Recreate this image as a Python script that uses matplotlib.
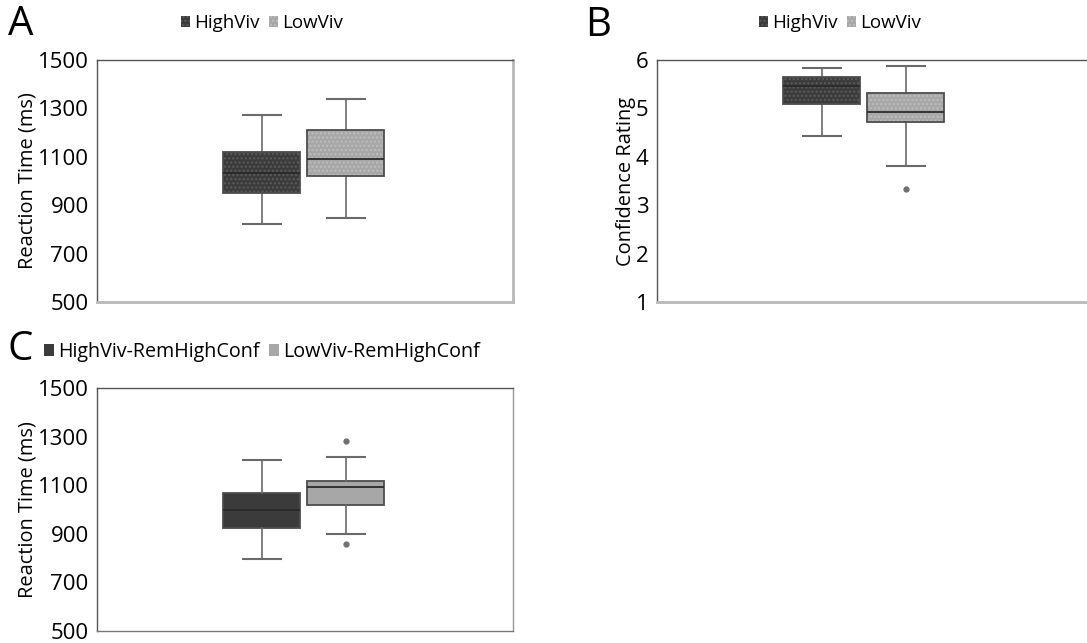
import matplotlib
matplotlib.use("Agg")
import matplotlib.pyplot as plt
from matplotlib.patches import Patch, PathPatch

plt.rcParams['font.family'] = ['Open Sans', 'DejaVu Sans']
plt.rcParams['hatch.linewidth'] = 1.1

# Summary statistics per group: whisker low, Q1, median, Q3, whisker high, outliers
rt_groups = ["HighViv", "LowViv"]
rt_whislo = [822, 847]
rt_q1 = [952, 1022]
rt_med = [1032, 1091]
rt_q3 = [1119, 1211]
rt_whishi = [1273, 1339]
rt_fliers = [[], []]

conf_groups = ["HighViv", "LowViv"]
conf_whislo = [4.44, 3.82]
conf_q1 = [5.10, 4.71]
conf_med = [5.46, 4.93]
conf_q3 = [5.64, 5.32]
conf_whishi = [5.84, 5.88]
conf_fliers = [[], [3.33]]

rem_groups = ["HighViv-RemHighConf", "LowViv-RemHighConf"]
rem_whislo = [797, 900]
rem_q1 = [924, 1019]
rem_med = [998, 1092]
rem_q3 = [1066, 1119]
rem_whishi = [1203, 1214]
rem_fliers = [[], [1282, 860]]

rt_ticks = [500, 700, 900, 1100, 1300, 1500]
conf_ticks = [1, 2, 3, 4, 5, 6]

dark_face, dark_dot = "#3b3b3b", "#5a5a5a"
light_face, light_dot = "#a7a7a7", "#bdbdbd"
edge_col = "#4d4d4d"
whisk_col = "#6a6a6a"

W, H = 1087, 643
fig = plt.figure(figsize=(W / 100, H / 100), dpi=100)


def px_axes(x0, y0, x1, y1):
    return fig.add_axes([x0 / W, 1 - y1 / H, (x1 - x0) / W, (y1 - y0) / H])


def make_stats(groups, lo, q1, med, q3, hi, fl):
    return [dict(label=g, whislo=lo[i], q1=q1[i], med=med[i], q3=q3[i],
                 whishi=hi[i], fliers=fl[i]) for i, g in enumerate(groups)]


def style_axes(ax, ylim, ticks, ylabel):
    ax.set_xlim(0, 5)
    ax.set_ylim(*ylim)
    ax.set_yticks(ticks)
    ax.set_xticks([])
    ax.tick_params(axis='y', length=0, labelsize=16, pad=6)
    ax.set_ylabel(ylabel, fontsize=14.4, labelpad=0)
    for s in ("top", "left"):
        ax.spines[s].set_color("#555555")
        ax.spines[s].set_linewidth(1.0)
    for s in ("bottom", "right"):
        ax.spines[s].set_color("#b8b8b8")
        ax.spines[s].set_linewidth(2.0)


def draw_boxes(ax, stats, hatched):
    bp = ax.bxp(stats, positions=[1.98, 2.99], widths=0.92, patch_artist=True,
                showfliers=True,
                medianprops=dict(color="#2a2a2a", linewidth=1.3),
                whiskerprops=dict(color=whisk_col, linewidth=1.2),
                capprops=dict(color=whisk_col, linewidth=1.5),
                flierprops=dict(marker='o', markersize=3.5, markerfacecolor="#707070",
                                markeredgecolor="#707070"))
    faces = [(dark_face, dark_dot), (light_face, light_dot)]
    for box, (fc, dc) in zip(bp['boxes'], faces):
        if hatched:
            box.set_facecolor(fc)
            box.set_edgecolor(dc)
            box.set_hatch('....')
            box.set_linewidth(0)
            ax.add_patch(PathPatch(box.get_path(), transform=box.get_transform(),
                                   fill=False, edgecolor=edge_col, linewidth=1.3,
                                   zorder=box.get_zorder() + 0.1))
        else:
            box.set_facecolor(fc)
            box.set_edgecolor(edge_col)
            box.set_linewidth(1.3)
    for m in bp['medians']:
        m.set_zorder(5)
    return bp


def legend_handles(labels, hatched):
    faces = [(dark_face, dark_dot), (light_face, light_dot)]
    hs = []
    for lab, (fc, dc) in zip(labels, faces):
        if hatched:
            hs.append(Patch(facecolor=fc, edgecolor=dc, hatch='....', linewidth=0, label=lab))
        else:
            hs.append(Patch(facecolor=fc, edgecolor="none", label=lab))
    return hs


# Panel A
axA = px_axes(97, 60, 513, 302)
draw_boxes(axA, make_stats(rt_groups, rt_whislo, rt_q1, rt_med, rt_q3, rt_whishi, rt_fliers), True)
style_axes(axA, (500, 1500), rt_ticks, "Reaction Time (ms)")

# Panel B (runs past the right edge of the figure)
axB = px_axes(657, 60, 1100, 302)
draw_boxes(axB, make_stats(conf_groups, conf_whislo, conf_q1, conf_med, conf_q3, conf_whishi, conf_fliers), True)
style_axes(axB, (1, 6), conf_ticks, "Confidence Rating")
axB.set_xlim(0, 5 * 443 / 416)

# Panel C
axC = px_axes(97, 388, 513, 631)
draw_boxes(axC, make_stats(rem_groups, rem_whislo, rem_q1, rem_med, rem_q3, rem_whishi, rem_fliers), False)
style_axes(axC, (500, 1500), rt_ticks, "Reaction Time (ms)")
axC.spines["bottom"].set_color("#777777")
axC.spines["bottom"].set_linewidth(1.0)
axC.spines["right"].set_color("#999999")
axC.spines["right"].set_linewidth(1.0)

leg_kw = dict(ncol=2, frameon=False, handlelength=0.5, handleheight=0.5,
              handletextpad=0.2, columnspacing=0.5, borderpad=0, borderaxespad=0)
fig.legend(handles=legend_handles(rt_groups, True), loc='center', fontsize=13.5,
           bbox_to_anchor=(262 / W, 1 - 23 / H), **leg_kw)
fig.legend(handles=legend_handles(conf_groups, True), loc='center', fontsize=13.5,
           bbox_to_anchor=(840 / W, 1 - 23 / H), **leg_kw)
fig.legend(handles=legend_handles(rem_groups, False), loc='center', fontsize=14.2,
           bbox_to_anchor=(262 / W, 1 - 352 / H), **leg_kw)

for letter, x, y in [("A", 8, 25), ("B", 585, 26), ("C", 8, 350)]:
    fig.text(x / W, 1 - y / H, letter, fontsize=29, va='center', ha='left')

fig.savefig("out.png", dpi=100, facecolor="white")
